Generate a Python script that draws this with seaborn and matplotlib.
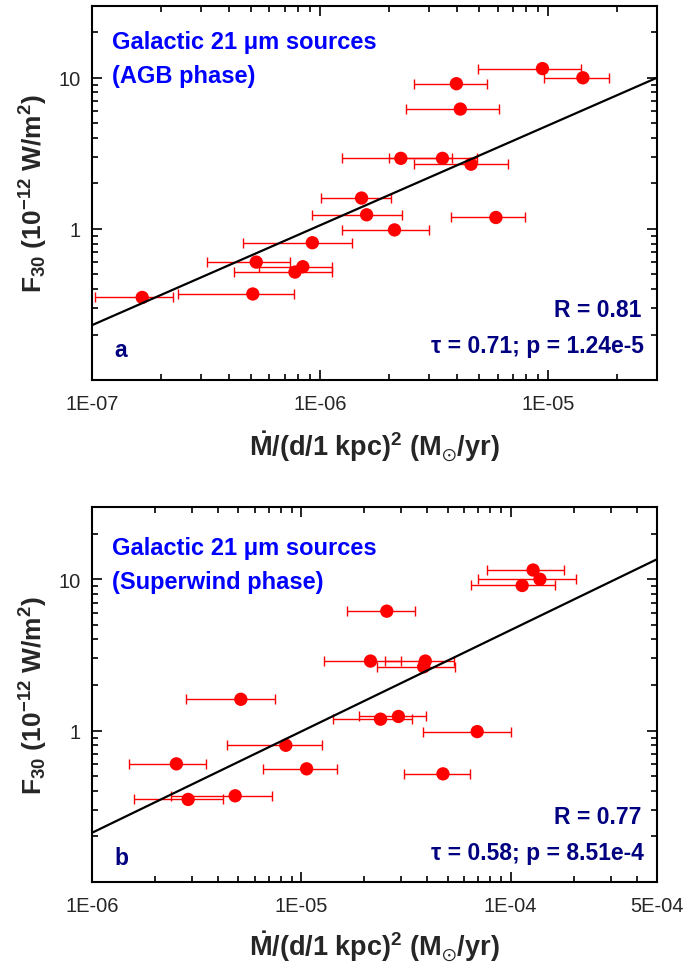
import numpy as np
import pandas as pd
import matplotlib
matplotlib.use("Agg")
import matplotlib.pyplot as plt
import seaborn as sns
from matplotlib.ticker import FixedLocator, FixedFormatter, LogLocator, NullFormatter

# ---------------- data: panel a (AGB phase) ----------------
agb_mdot    = [9.44e-6, 1.42e-5, 3.96e-6, 4.12e-6, 2.26e-6, 3.44e-6, 4.59e-6,
               1.52e-6, 1.60e-6, 5.9e-6, 2.12e-6, 9.25e-7, 5.25e-7, 8.4e-7,
               7.76e-7, 5.07e-7, 1.66e-7]
agb_mdot_lo = [4.94e-6, 9.6e-6, 2.59e-6, 2.37e-6, 1.25e-6, 2.01e-6, 2.59e-6,
               1.01e-6, 9.2e-7, 3.74e-6, 1.25e-6, 4.6e-7, 3.2e-7, 5.4e-7,
               4.2e-7, 2.39e-7, 1.03e-7]
agb_mdot_hi = [1.40e-5, 1.85e-5, 5.4e-6, 6.1e-6, 3.8e-6, 4.87e-6, 6.65e-6,
               2.05e-6, 2.29e-6, 7.9e-6, 2.99e-6, 1.38e-6, 7.4e-7, 1.13e-6,
               1.13e-6, 7.7e-7, 2.27e-7]
agb_f30     = [11.5, 10.0, 9.14, 6.21, 2.93, 2.93, 2.68,
               1.60, 1.24, 1.19, 0.985, 0.81, 0.603, 0.562,
               0.518, 0.371, 0.352]
agb_fit = (3.99, 0.661)          # log F = a + b log Mdot
agb_xlim = (1e-7, 3e-5)
agb_xticks = [1e-7, 1e-6, 1e-5]
agb_xticklabels = ["1E-07", "1E-06", "1E-05"]

# ---------------- data: panel b (Superwind phase) ----------------
sw_mdot    = [1.28e-4, 1.38e-4, 1.135e-4, 2.56e-5, 2.14e-5, 3.91e-5, 3.84e-5,
              5.14e-6, 2.39e-5, 2.91e-5, 6.92e-5, 8.43e-6, 2.53e-6, 1.06e-5,
              4.75e-5, 4.83e-6, 2.88e-6]
sw_mdot_lo = [7.75e-5, 6.97e-5, 6.5e-5, 1.66e-5, 1.29e-5, 2.5e-5, 2.29e-5,
              2.82e-6, 1.42e-5, 1.88e-5, 3.8e-5, 4.4e-6, 1.5e-6, 6.53e-6,
              3.11e-5, 2.39e-6, 1.58e-6]
sw_mdot_hi = [1.79e-4, 2.06e-4, 1.63e-4, 3.48e-5, 3.0e-5, 5.37e-5, 5.45e-5,
              7.46e-6, 3.39e-5, 3.94e-5, 1.0e-4, 1.26e-5, 3.52e-6, 1.48e-5,
              6.38e-5, 7.26e-6, 4.21e-6]
sw_f30     = [11.5, 10.0, 9.09, 6.15, 2.88, 2.88, 2.64,
              1.61, 1.19, 1.24, 0.985, 0.80, 0.603, 0.559,
              0.518, 0.371, 0.351]
sw_fit = (3.342, 0.6695)
sw_xlim = (1e-6, 5e-4)
sw_xticks = [1e-6, 1e-5, 1e-4, 5e-4]
sw_xticklabels = ["1E-06", "1E-05", "1E-04", "5E-04"]

ylim = (0.1, 30)
yticks = [1, 10]
yticklabels = ["1", "10"]

titles = [("Galactic 21 \u03bcm sources", "(AGB phase)"),
          ("Galactic 21 \u03bcm sources", "(Superwind phase)")]
stats = [("R = 0.81", "\u03c4 = 0.71; p = 1.24e-5", "a"),
         ("R = 0.77", "\u03c4 = 0.58; p = 8.51e-4", "b")]

# ---------------- style ----------------
sns.set_style("ticks")
plt.rcParams["font.family"] = ["Liberation Sans", "DejaVu Sans"]
plt.rcParams["mathtext.fontset"] = "custom"
plt.rcParams["mathtext.rm"] = "Liberation Sans"
plt.rcParams["mathtext.bf"] = "Liberation Sans:bold"
plt.rcParams["mathtext.it"] = "Liberation Sans:italic"
plt.rcParams["mathtext.fallback"] = "stixsans"
plt.rcParams["axes.linewidth"] = 1.5

BLUE = "#0000ff"
NAVY = "#000080"

fig = plt.figure(figsize=(6.87, 9.70), dpi=100)
ax_a = fig.add_axes([0.1339, 0.6072, 0.8224, 0.3859])
ax_b = fig.add_axes([0.1339, 0.0897, 0.8224, 0.3866])

panels = [
    (ax_a, agb_mdot, agb_mdot_lo, agb_mdot_hi, agb_f30, agb_fit, agb_xlim,
     agb_xticks, agb_xticklabels, (0.888, 0.797), (0.170, 0.074, 0.065), 11),
    (ax_b, sw_mdot, sw_mdot_lo, sw_mdot_hi, sw_f30, sw_fit, sw_xlim,
     sw_xticks, sw_xticklabels, (0.874, 0.783), (0.158, 0.0605, 0.047), 9.5),
]

xlabel = r"$\mathbf{\dot{M}}$/(d/1 kpc)$^\mathbf{2}$ (M$_{\odot}$/yr)"
ylabel = r"F$_\mathbf{30}$ (10$^\mathbf{-12}$ W/m$^\mathbf{2}$)"

for i, (ax, x, lo, hi, y, fit, xlim, xt, xtl, ty, sy, xlp) in enumerate(panels):
    x = np.asarray(x); lo = np.asarray(lo); hi = np.asarray(hi); y = np.asarray(y)
    ax.set_xscale("log")
    ax.set_yscale("log")
    df = pd.DataFrame({"mdot": x, "f30": y})
    ax.errorbar(x, y, xerr=[x - lo, hi - x], fmt="none", ecolor="#ff0000",
                elinewidth=1.0, capsize=3.8, capthick=1.0, zorder=2)
    sns.scatterplot(data=df, x="mdot", y="f30", ax=ax, color="#ff0000",
                    s=92, edgecolor="none", linewidth=0, zorder=3, legend=False)
    xs = np.array(xlim)
    ys = 10 ** (fit[0] + fit[1] * np.log10(xs))
    sns.lineplot(x=xs, y=ys, ax=ax, color="black", linewidth=1.6, zorder=4,
                 sort=False, estimator=None)
    ax.set_xlim(*xlim)
    ax.set_ylim(*ylim)

    ax.xaxis.set_major_locator(FixedLocator(xt))
    ax.xaxis.set_major_formatter(FixedFormatter(xtl))
    ax.xaxis.set_minor_locator(LogLocator(base=10, subs=np.arange(2, 10), numticks=50))
    ax.xaxis.set_minor_formatter(NullFormatter())
    ax.yaxis.set_major_locator(FixedLocator(yticks))
    ax.yaxis.set_major_formatter(FixedFormatter(yticklabels))
    ax.yaxis.set_minor_locator(LogLocator(base=10, subs=np.arange(2, 10), numticks=50))
    ax.yaxis.set_minor_formatter(NullFormatter())

    ax.tick_params(which="both", direction="in", top=True, right=True,
                   color="black", width=1.2)
    ax.tick_params(which="major", length=7.5, labelsize=14.5, pad=8)
    ax.tick_params(axis="x", which="major", pad=10)
    ax.tick_params(which="minor", length=4.5)
    for sp in ax.spines.values():
        sp.set_linewidth(1.5)
        sp.set_color("black")

    ax.set_xlabel(xlabel, fontsize=19.5, fontweight="bold", labelpad=xlp)
    ax.set_ylabel(ylabel, fontsize=19, fontweight="bold", labelpad=6)

    ax.text(0.035, ty[0], titles[i][0], transform=ax.transAxes, color=BLUE,
            fontsize=17, fontweight="bold", va="baseline", ha="left")
    ax.text(0.035, ty[1], titles[i][1], transform=ax.transAxes, color=BLUE,
            fontsize=17, fontweight="bold", va="baseline", ha="left")
    ax.text(0.972, sy[0], stats[i][0], transform=ax.transAxes, color=NAVY,
            fontsize=16.5, fontweight="bold", va="baseline", ha="right")
    ax.text(0.976, sy[1], stats[i][1], transform=ax.transAxes, color=NAVY,
            fontsize=16.5, fontweight="bold", va="baseline", ha="right")
    ax.text(0.040, sy[2], stats[i][2], transform=ax.transAxes, color=NAVY,
            fontsize=16.5, fontweight="bold", va="baseline", ha="left")

fig.savefig("out.png", dpi=100)
